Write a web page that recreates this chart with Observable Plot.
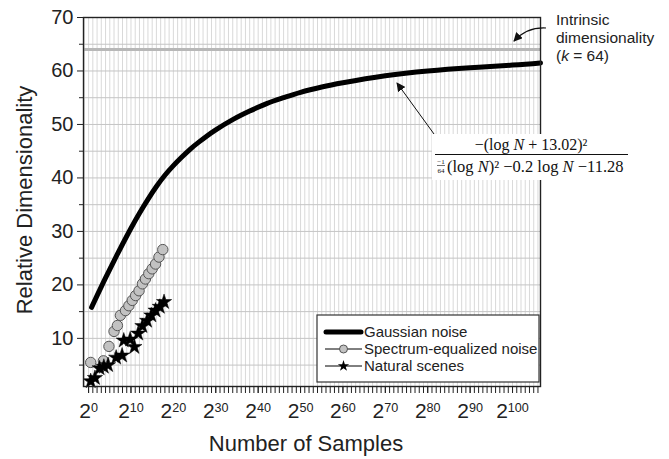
<!DOCTYPE html>
<html>
<head>
<meta charset="utf-8">
<script src="https://cdn.jsdelivr.net/npm/d3@7"></script>
<script src="https://cdn.jsdelivr.net/npm/@observablehq/plot@0.6"></script>
<style>
  html, body { margin: 0; padding: 0; background: #fff; }
  #chart { width: 669px; height: 459px; }
</style>
</head>
<body>
<div id="chart"></div>
<script>
// ---- Data (x = log2 of number of samples, y = relative dimensionality) ----
const gaussX = [0.7, 2, 4, 6, 8, 10, 12, 14, 16, 18, 20, 22, 24, 26, 28, 30, 34, 38, 42, 46, 50, 55, 60, 70, 80, 90, 100, 106.6];
const gaussY = [15.8, 18.0, 21.3, 24.5, 27.6, 30.6, 33.4, 36.0, 38.4, 40.5, 42.3, 43.9, 45.4, 46.7, 47.9, 49.0, 50.9, 52.5, 53.9, 55.0, 56.0, 57.0, 57.8, 59.1, 60.0, 60.6, 61.1, 61.5];

const specX = [0.5, 3.5, 4.8, 6.0, 6.8, 7.5, 8.7, 9.5, 10.3, 11.1, 11.9, 12.7, 13.4, 14.2, 15.0, 15.8, 16.6, 17.5];
const specY = [5.5, 5.8, 8.5, 11.3, 12.4, 14.3, 15.2, 16.1, 17.1, 18.0, 18.9, 20.2, 21.1, 22.1, 23.0, 23.9, 25.2, 26.6];

const natX = [0.5, 1.5, 2.6, 3.6, 4.6, 6.5, 7.9, 8.3, 9.8, 10.8, 11.7, 12.7, 13.8, 14.8, 15.8, 16.8, 17.8];
const natY = [2.0, 2.6, 4.4, 4.7, 5.0, 6.4, 6.8, 9.6, 9.8, 8.4, 10.9, 12.3, 13.3, 14.3, 15.2, 15.9, 16.8];

const intrinsicK = [64];

const xLabelExps = [0, 10, 20, 30, 40, 50, 60, 70, 80, 90, 100];
const yLabelTicks = [10, 20, 30, 40, 50, 60, 70];
const yMinorTicks = [5, 15, 25, 35, 45, 55, 65];

const seriesNames = ["Gaussian noise", "Spectrum-equalized noise", "Natural scenes"];
const xTitle = "Number of Samples";
const yTitle = "Relative Dimensionality";

// ---- Tables ----
const gauss = gaussX.map((x, i) => ({x, y: gaussY[i]}));
const spec = specX.map((x, i) => ({x, y: specY[i]}));
const nat = natX.map((x, i) => ({x, y: natY[i]}));

const xMinor = d3.range(0, 107, 1);
const xGrid = d3.range(-1, 107, 1);
const yGrid = d3.range(5, 70, 5);

const svg = Plot.plot({
  width: 669,
  height: 459,
  marginLeft: 83,
  marginRight: 129,
  marginTop: 17,
  marginBottom: 73,
  style: {fontFamily: "'Liberation Sans', Arial, sans-serif", fontSize: "20px", background: "white", color: "#222"},
  x: {domain: [-1.2, 106.6]},
  y: {domain: [1, 70]},
  marks: [
    Plot.gridX(xGrid, {stroke: "#cfcfcf", strokeOpacity: 1, strokeWidth: 0.8}),
    Plot.gridY(yGrid, {stroke: "#c4c4c4", strokeOpacity: 1, strokeWidth: 1}),
    Plot.ruleY(intrinsicK, {stroke: "#b8b8b8", strokeWidth: 3}),
    Plot.line(gauss, {x: "x", y: "y", stroke: "#000", strokeWidth: 5, curve: "natural", strokeLinecap: "round"}),
    Plot.dot(spec, {x: "x", y: "y", r: 5.2, fill: "#c2c2c2", stroke: "#555", strokeWidth: 1}),
    Plot.dot(nat, {x: "x", y: "y", symbol: "star", r: 4.8, fill: "#000", stroke: "#000", strokeWidth: 0.5}),
    Plot.frame({stroke: "#222", strokeWidth: 1.4}),
    Plot.axisY({ticks: yLabelTicks, tickSize: 6, tickPadding: 4, fontSize: 20, label: null, stroke: "#222"}),
    Plot.axisY({ticks: yMinorTicks, tickSize: 4, tickFormat: () => "", label: null, stroke: "#222"}),
    Plot.axisX({ticks: xMinor, tickSize: 7, tickFormat: () => "", label: null, stroke: "#222"}),
    Plot.axisX({ticks: xLabelExps, tickSize: 7, tickPadding: 10, fontSize: 21, tickFormat: d => "2^" + d, label: null, stroke: "#222"})
  ]
});

document.getElementById("chart").appendChild(svg);
const s = d3.select(svg);

// superscript exponents on x tick labels
s.selectAll('g[aria-label="x-axis tick label"] text').each(function () {
  const t = this.textContent;
  if (!t.includes("^")) return;
  const [b, e] = t.split("^");
  const el = d3.select(this);
  el.text(null);
  el.append("tspan").text(b);
  el.append("tspan").attr("dy", "-0.5em").attr("font-size", "0.6em").text(e);
});

// Axis titles
s.append("text")
  .attr("x", 306).attr("y", 451)
  .attr("text-anchor", "middle")
  .attr("font-size", 22)
  .attr("fill", "#222")
  .text(xTitle);
s.append("text")
  .attr("transform", "translate(32,200) rotate(-90)")
  .attr("text-anchor", "middle")
  .attr("font-size", 22)
  .attr("fill", "#222")
  .text(yTitle);

// Arrow marker
const defs = s.append("defs");
defs.append("marker")
  .attr("id", "ah").attr("viewBox", "0 0 10 10").attr("refX", 9).attr("refY", 5)
  .attr("markerWidth", 9).attr("markerHeight", 9).attr("markerUnits", "userSpaceOnUse")
  .attr("orient", "auto")
  .append("path").attr("d", "M0,0L10,5L0,10z").attr("fill", "#111");

// Intrinsic dimensionality annotation
const ann = s.append("g").attr("font-size", 15.5).attr("fill", "#222").attr("text-anchor", "start");
ann.append("text").attr("x", 556).attr("y", 25).text("Intrinsic");
ann.append("text").attr("x", 556).attr("y", 43).text("dimensionality");
const kt = ann.append("text").attr("x", 556).attr("y", 61);
kt.append("tspan").text("(");
kt.append("tspan").attr("font-style", "italic").text("k");
kt.append("tspan").text(" = 64)");
s.append("path")
  .attr("d", "M546,28 Q527,27 514,41")
  .attr("fill", "none").attr("stroke", "#111").attr("stroke-width", 1.2)
  .attr("marker-end", "url(#ah)");

// Formula annotation
s.append("path")
  .attr("d", "M434,134 L397,83")
  .attr("fill", "none").attr("stroke", "#111").attr("stroke-width", 1)
  .attr("marker-end", "url(#ah)");
const fg = s.append("g").attr("font-family", "'Liberation Serif', 'Times New Roman', serif").attr("fill", "#111");
fg.append("rect").attr("x", 432).attr("y", 134).attr("width", 202).attr("height", 46).attr("fill", "#fff");
const num = fg.append("text").attr("x", 531).attr("y", 150).attr("text-anchor", "middle").attr("font-size", 16);
num.append("tspan").text("\u2212(log ");
num.append("tspan").attr("font-style", "italic").text("N");
num.append("tspan").text(" + 13.02)\u00B2");
fg.append("line").attr("x1", 435).attr("x2", 628).attr("y1", 154.5).attr("y2", 154.5).attr("stroke", "#111").attr("stroke-width", 1);
fg.append("text").attr("x", 441).attr("y", 164).attr("text-anchor", "middle").attr("font-size", 7).text("\u22121");
fg.append("line").attr("x1", 437).attr("x2", 445).attr("y1", 165.5).attr("y2", 165.5).attr("stroke", "#111").attr("stroke-width", 0.6);
fg.append("text").attr("x", 441).attr("y", 172.5).attr("text-anchor", "middle").attr("font-size", 7).text("64");
const den = fg.append("text").attr("x", 447).attr("y", 172).attr("text-anchor", "start").attr("font-size", 16.5);
den.append("tspan").text("(log ");
den.append("tspan").attr("font-style", "italic").text("N");
den.append("tspan").text(")\u00B2 \u22120.2 log ");
den.append("tspan").attr("font-style", "italic").text("N");
den.append("tspan").text(" \u221211.28");

// Legend
const lg = s.append("g").attr("font-size", 15).attr("fill", "#222").attr("text-anchor", "start");
lg.append("rect").attr("x", 317).attr("y", 315).attr("width", 222).attr("height", 67)
  .attr("fill", "#fff").attr("stroke", "#333").attr("stroke-width", 1.2);
const rows = [332, 349, 366];
// Gaussian
lg.append("line").attr("x1", 326).attr("x2", 361).attr("y1", rows[0]).attr("y2", rows[0])
  .attr("stroke", "#000").attr("stroke-width", 5).attr("stroke-linecap", "round");
// Spectrum
lg.append("line").attr("x1", 325).attr("x2", 362).attr("y1", rows[1]).attr("y2", rows[1])
  .attr("stroke", "#000").attr("stroke-width", 1);
lg.append("circle").attr("cx", 343.5).attr("cy", rows[1]).attr("r", 4)
  .attr("fill", "#c2c2c2").attr("stroke", "#555").attr("stroke-width", 1);
// Natural
lg.append("line").attr("x1", 325).attr("x2", 362).attr("y1", rows[2]).attr("y2", rows[2])
  .attr("stroke", "#000").attr("stroke-width", 1);
lg.append("path").attr("transform", `translate(343.5,${rows[2]})`)
  .attr("d", d3.symbol(d3.symbolStar, 40)()).attr("fill", "#000");
seriesNames.forEach((n, i) => {
  lg.append("text").attr("x", 364).attr("y", rows[i]).attr("dy", "0.35em").text(n);
});
</script>
</body>
</html>
